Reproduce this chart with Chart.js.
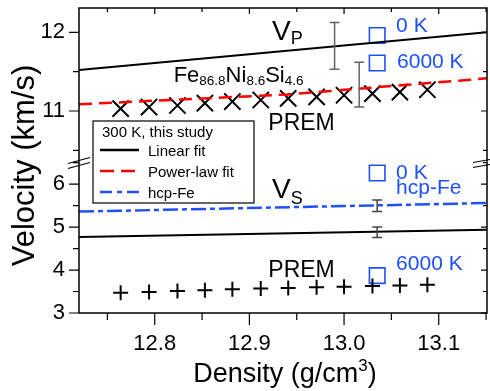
<!DOCTYPE html>
<html>
<head>
<meta charset="utf-8">
<script src="https://cdn.jsdelivr.net/npm/chart.js@4.4.1/dist/chart.umd.min.js"></script>
<style>
  html, body { margin: 0; padding: 0; background: #fff; }
  #wrap { width: 490px; height: 391px; }
</style>
</head>
<body>
<div id="wrap"><canvas id="c"></canvas></div>
<script>
/* ---------------- Data ---------------- */

const densityMin = 12.72;
const densityMax = 13.151;

const densityTicks = [12.8, 12.9, 13.0, 13.1];
const densityMinor = [12.75, 12.85, 12.95, 13.05, 13.15];
const vpTicks = [11, 12];
const vpMinor = [10.5, 11.5];
const vsTicks = [3, 4, 5, 6];
const vsMinor = [3.5, 4.5, 5.5, 6.5];

// fits (this study, 300 K)
const fitDensity = [12.72, 13.151];
const vpLinear = [11.52, 12.0];
const vsLinear = [4.77, 4.94];
const hcpFeVs = [5.36, 5.56];
const powerDensity = [12.72, 12.94, 13.151];
const vpPower = [11.085, 11.21, 11.415];

// PREM inner core
const premDensity = [12.764, 12.794, 12.824, 12.853, 12.882, 12.912, 12.941, 12.971, 13.000, 13.030, 13.059, 13.088];
const premVp = [11.03, 11.05, 11.07, 11.10, 11.12, 11.14, 11.16, 11.18, 11.20, 11.22, 11.24, 11.27];
const premVs = [3.47, 3.49, 3.51, 3.53, 3.55, 3.57, 3.58, 3.60, 3.61, 3.63, 3.64, 3.66];

// calculations (0 K / 6000 K)
const calcDensity = [13.035, 13.035];
const calcVp = [11.96, 11.61];
const calcVs = [6.26, 3.87];

// error bars
const vpErrDensity = [12.99, 13.016];
const vpErrLow = [11.53, 11.05];
const vpErrHigh = [12.125, 11.62];
const vsErrDensity = [13.035, 13.035];
const vsErrLow = [5.36, 4.76];
const vsErrHigh = [5.63, 5.0];

/* ---------------- Styles ---------------- */

const FONT = "'Liberation Sans', Arial, sans-serif";
const BLUE = "#1e50ff";
const RED = "#ff0000";

const pts = (xs, ys) => xs.map((x, i) => ({ x, y: ys[i] }));

const noPadding = s => {
    s.paddingTop = 0; s.paddingBottom = 0;
    s.paddingLeft = 0; s.paddingRight = 0;
};

/* ---------------- Plugin: frame, ticks, notes ---------------- */

const decorations = {
    id: "decorations",
    afterDatasetsDraw(chart) {
        const { ctx, chartArea: a, scales } = chart;
        const xs = scales.x, yt = scales.yTop, yb = scales.yBot;
        ctx.save();

        // error bars
        const errBar = (x, lo, hi, ys, color) => {
            const px = xs.getPixelForValue(x);
            const p1 = ys.getPixelForValue(lo), p2 = ys.getPixelForValue(hi);
            ctx.strokeStyle = color;
            ctx.lineWidth = 1.5;
            ctx.beginPath();
            ctx.moveTo(px, p1); ctx.lineTo(px, p2);
            ctx.moveTo(px - 5, p1); ctx.lineTo(px + 5, p1);
            ctx.moveTo(px - 5, p2); ctx.lineTo(px + 5, p2);
            ctx.stroke();
        };
        vpErrDensity.forEach((d, i) => errBar(d, vpErrLow[i], vpErrHigh[i], yt, "#666"));
        vsErrDensity.forEach((d, i) => errBar(d, vsErrLow[i], vsErrHigh[i], yb, "#444"));

        // frame
        ctx.strokeStyle = "#000";
        ctx.lineWidth = 1.5;
        ctx.strokeRect(a.left, a.top, a.right - a.left, a.bottom - a.top);

        // ticks
        ctx.lineWidth = 1.2;
        ctx.beginPath();
        const yTick = (ys, v, outLen, inLen) => {
            const p = ys.getPixelForValue(v);
            ctx.moveTo(a.left - outLen, p); ctx.lineTo(a.left, p);
            ctx.moveTo(a.right - inLen, p); ctx.lineTo(a.right, p);
        };
        vpTicks.forEach(v => yTick(yt, v, 10, 6));
        vpMinor.forEach(v => yTick(yt, v, 6, 4));
        vsTicks.forEach(v => yTick(yb, v, 10, 6));
        vsMinor.filter(v => v < yb.max).forEach(v => yTick(yb, v, 6, 4));
        const xTick = (v, outLen, inLen) => {
            const p = xs.getPixelForValue(v);
            ctx.moveTo(p, a.bottom); ctx.lineTo(p, a.bottom + outLen);
            ctx.moveTo(p, a.top); ctx.lineTo(p, a.top + inLen);
        };
        densityTicks.forEach(v => xTick(v, 12, 6));
        densityMinor.filter(v => v < xs.max).forEach(v => xTick(v, 7, 4));
        ctx.stroke();

        // axis break marks
        const yBreak = yb.top;
        ctx.lineWidth = 1.2;
        ctx.beginPath();
        [0, 5].forEach(off => {
            ctx.moveTo(a.left - 11, yBreak + 3 + off); ctx.lineTo(a.left + 11, yBreak - 3 + off);
            ctx.moveTo(a.right - 14, yBreak + 2 + off); ctx.lineTo(a.right + 3, yBreak - 1 + off);
        });
        ctx.stroke();

        // rich text helper
        const rich = (x, y, parts, color) => {
            ctx.fillStyle = color;
            ctx.textAlign = "left";
            ctx.textBaseline = "alphabetic";
            let cx = x;
            parts.forEach(([t, size, dy]) => {
                ctx.font = size + "px " + FONT;
                ctx.fillText(t, cx, y + dy);
                cx += ctx.measureText(t).width;
            });
        };
        const X = v => xs.getPixelForValue(v);

        rich(X(12.924), yt.getPixelForValue(11.902), [["V", 28, 0], ["P", 18, 4]], "#000");
        rich(X(12.924), yb.getPixelForValue(5.674), [["V", 28, 0], ["S", 18, 6]], "#000");
        rich(X(12.82), yt.getPixelForValue(11.372),
            [["Fe", 22, 0], ["86.8", 13.5, 3], ["Ni", 22, 0], ["8.6", 13.5, 3], ["Si", 22, 0], ["4.6", 13.5, 3]], "#000");
        rich(X(12.92), yt.getPixelForValue(10.759), [["PREM", 23, 0]], "#000");
        rich(X(12.92), yb.getPixelForValue(3.844), [["PREM", 23, 0]], "#000");

        rich(X(13.055), yt.getPixelForValue(12.0), [["0 K", 21, 0]], BLUE);
        rich(X(13.056), yt.getPixelForValue(11.543), [["6000 K", 21, 0]], BLUE);
        rich(X(13.055), yb.getPixelForValue(6.116), [["0 K", 21, 0]], BLUE);
        rich(X(13.055), yb.getPixelForValue(5.767), [["hcp-Fe", 21, 0]], BLUE);
        rich(X(13.055), yb.getPixelForValue(3.99), [["6000 K", 21, 0]], BLUE);

        // legend box
        ctx.fillStyle = "#fff";
        ctx.fillRect(93, 121, 161, 82);
        ctx.strokeStyle = "#000";
        ctx.lineWidth = 1.2;
        ctx.strokeRect(93, 121, 161, 82);
        rich(102, 137, [["300 K, this study", 15, 0]], "#000");
        const legendRow = (y, color, dash, label) => {
            ctx.strokeStyle = color;
            ctx.lineWidth = 2.5;
            ctx.setLineDash(dash);
            ctx.beginPath();
            ctx.moveTo(100, y); ctx.lineTo(139, y);
            ctx.stroke();
            ctx.setLineDash([]);
            rich(148, y + 5.5, [[label, 15, 0]], "#000");
        };
        legendRow(150, "#000", [], "Linear fit");
        legendRow(171, RED, [14, 7], "Power-law fit");
        legendRow(192, BLUE, [12, 5, 5, 5], "hcp-Fe");

        // axis titles
        ctx.fillStyle = "#000";
        ctx.textAlign = "center";
        ctx.textBaseline = "middle";
        ctx.save();
        ctx.translate(25, (a.top + a.bottom) / 2 + 5);
        ctx.rotate(-Math.PI / 2);
        ctx.font = "31px " + FONT;
        ctx.fillText("Velocity (km/s)", 0, 0);
        ctx.restore();

        ctx.textBaseline = "alphabetic";
        ctx.textAlign = "left";
        const t1 = "Density (g/cm", t2 = ")";
        ctx.font = "27px " + FONT;
        const w1 = ctx.measureText(t1).width;
        ctx.font = "17px " + FONT;
        const w3 = ctx.measureText("3").width;
        ctx.font = "27px " + FONT;
        const w2 = ctx.measureText(t2).width;
        const startX = 285 - (w1 + w3 + w2) / 2;
        ctx.fillText(t1, startX, 382);
        ctx.font = "17px " + FONT;
        ctx.fillText("3", startX + w1, 371);
        ctx.font = "27px " + FONT;
        ctx.fillText(t2, startX + w1 + w3, 382);

        ctx.restore();
    }
};

/* ---------------- Chart ---------------- */

const tickFont = { family: FONT, size: 22 };

new Chart(document.getElementById("c"), {
    type: "scatter",
    data: {
        datasets: [
            {
                type: "line", yAxisID: "yTop",
                data: pts(fitDensity, vpLinear),
                borderColor: "#000", borderWidth: 2, pointRadius: 0
            },
            {
                type: "line", yAxisID: "yTop",
                data: pts(powerDensity, vpPower),
                borderColor: RED, borderWidth: 2.5, borderDash: [13, 7], pointRadius: 0
            },
            {
                type: "line", yAxisID: "yBot",
                data: pts(fitDensity, vsLinear),
                borderColor: "#000", borderWidth: 2, pointRadius: 0
            },
            {
                type: "line", yAxisID: "yBot",
                data: pts(fitDensity, hcpFeVs),
                borderColor: BLUE, borderWidth: 2.5, borderDash: [15, 4, 5, 4], pointRadius: 0
            },
            {
                yAxisID: "yTop",
                data: pts(premDensity, premVp),
                pointStyle: "crossRot", pointRadius: 11.5, borderColor: "#000", borderWidth: 2,
                backgroundColor: "transparent"
            },
            {
                yAxisID: "yBot",
                data: pts(premDensity, premVs),
                pointStyle: "cross", pointRadius: 7.5, borderColor: "#000", borderWidth: 2,
                backgroundColor: "transparent"
            },
            {
                yAxisID: "yTop",
                data: pts(calcDensity, calcVp),
                pointStyle: "rect", pointRadius: 11, borderColor: BLUE, borderWidth: 1.6,
                backgroundColor: "transparent"
            },
            {
                yAxisID: "yBot",
                data: pts(calcDensity, calcVs),
                pointStyle: "rect", pointRadius: 11, borderColor: BLUE, borderWidth: 1.6,
                backgroundColor: "transparent"
            }
        ]
    },
    options: {
        responsive: true,
        maintainAspectRatio: false,
        animation: false,
        layout: { autoPadding: false, padding: { top: 8, right: 3, left: 0, bottom: 0 } },
        plugins: {
            legend: { display: false },
            tooltip: { enabled: false }
        },
        scales: {
            x: {
                type: "linear",
                position: "bottom",
                min: densityMin,
                max: densityMax,
                afterBuildTicks: s => { s.ticks = densityTicks.map(v => ({ value: v })); },
                afterFit: s => { s.height = 78; noPadding(s); },
                grid: { display: false, drawTicks: false },
                border: { display: false },
                ticks: {
                    font: tickFont, color: "#000", padding: 18, maxRotation: 0, autoSkip: false,
                    callback: v => Number(v).toFixed(1)
                }
            },
            yTop: {
                type: "linear",
                position: "left",
                stack: "v",
                stackWeight: 1,
                weight: 2,
                min: 10.37,
                max: 12.31,
                afterBuildTicks: s => { s.ticks = vpTicks.map(v => ({ value: v })); },
                afterFit: s => { s.width = 79; noPadding(s); },
                grid: { display: false, drawTicks: false },
                border: { display: false },
                ticks: { font: tickFont, color: "#000", padding: 14 }
            },
            yBot: {
                type: "linear",
                position: "left",
                stack: "v",
                stackWeight: 1,
                weight: 1,
                min: 3,
                max: 6.55,
                afterBuildTicks: s => { s.ticks = vsTicks.map(v => ({ value: v })); },
                afterFit: s => { s.width = 79; noPadding(s); },
                grid: { display: false, drawTicks: false },
                border: { display: false },
                ticks: { font: tickFont, color: "#000", padding: 14 }
            }
        }
    },
    plugins: [decorations]
});
</script>
</body>
</html>
